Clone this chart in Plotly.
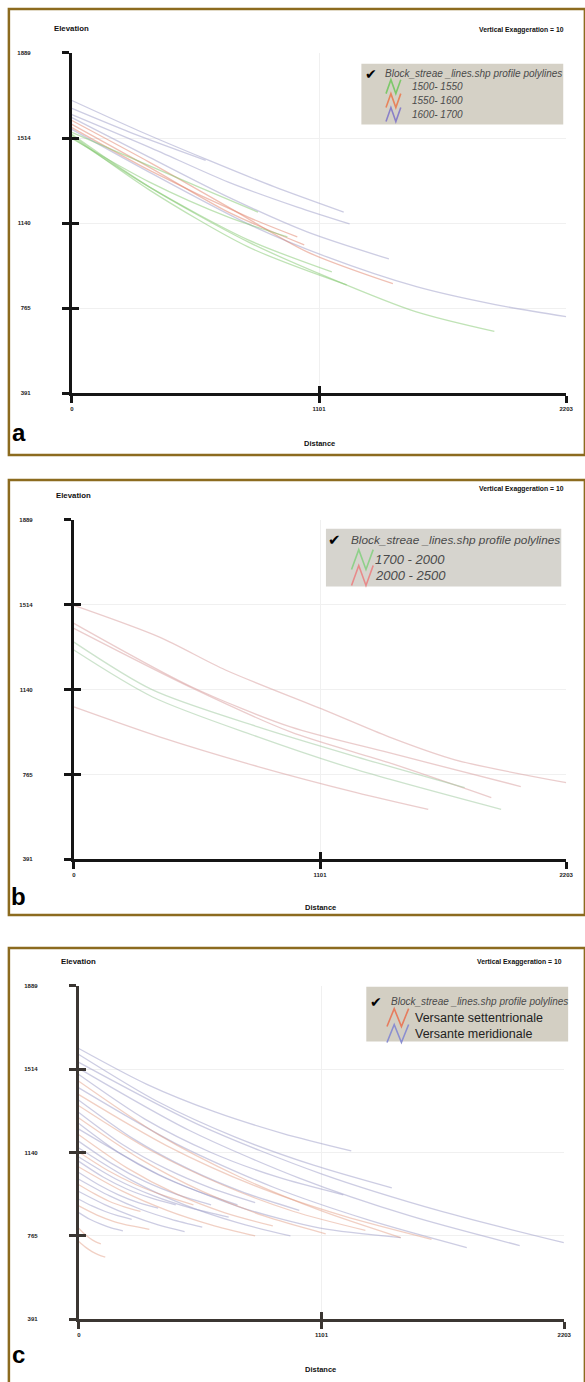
import plotly.graph_objects as go

W, H = 585, 1382

# ---------------- data ----------------
y_tickvals = [391, 765, 1140, 1514, 1889]
y_ticktext = ["391", "765", "1140", "1514", "1889"]
x_tickvals = [0, 1101, 2202]
x_ticktext = ["0", "1101", "2203"]

# panel a : classes 1500-1550 (green), 1550-1600 (orange), 1600-1700 (purple)
a_green_dist = [[0, 346, 785, 1136, 1531, 1882], [0, 346, 785, 1224], [0, 346, 785, 1158],
                [0, 346, 697, 960], [0, 566, 829]]
a_green_elev = [[1530, 1298, 1057, 903, 750, 663], [1525, 1285, 1035, 868], [1517, 1298, 1066, 925],
                [1512, 1320, 1166, 1079], [1539, 1298, 1188]]
a_orange_dist = [[0, 346, 697, 1035], [0, 346, 785, 1004], [0, 346, 697, 1048, 1430]]
a_orange_elev = [[1574, 1385, 1188, 1044], [1560, 1372, 1166, 1079], [1591, 1407, 1210, 1013, 873]]
a_purple_dist = [[0, 300, 600, 900, 1211], [0, 259, 596], [0, 346, 697, 1004, 1237],
                 [0, 346, 697, 1048, 1412], [0, 346, 785, 1136, 1535, 1886, 2202]]
a_purple_elev = [[1679, 1545, 1420, 1300, 1188], [1644, 1539, 1416], [1617, 1473, 1320, 1210, 1136],
                 [1604, 1429, 1254, 1101, 982], [1552, 1363, 1136, 991, 860, 781, 728]]

# panel b : classes 1700-2000 (green), 2000-2500 (red)
b_green_dist = [[0, 352, 823, 1264, 1748], [0, 352, 823, 1264, 1911]]
b_green_elev = [[1349, 1138, 975, 843, 707], [1314, 1107, 931, 786, 611]]
b_red_dist = [[0, 383, 678, 1119, 1409, 1704, 2202], [0, 528, 969, 1409, 1999],
              [0, 528, 969, 1409, 1867], [0, 383, 823, 1264, 1585]]
b_red_elev = [[1511, 1371, 1226, 1050, 931, 830, 729], [1432, 1151, 975, 861, 712],
              [1410, 1147, 953, 817, 663], [1063, 931, 800, 685, 611]]

# panel c : Versante settentrionale (orange), Versante meridionale (blue)
c_sett_dist = [[0, 365, 730, 1095, 1460], [0, 400, 800, 1200, 1600], [0, 325, 650, 975, 1300],
               [0, 280, 560, 840, 1120], [0, 220, 440, 660, 880], [0, 130, 260, 390, 520],
               [0, 200, 400, 600, 800], [0, 70, 140, 210, 280], [0, 80, 160, 240, 320],
               [0, 25, 50, 75, 100], [0, 30, 60, 90, 120]]
c_sett_elev = [[1460, 1218, 1030, 880, 758], [1400, 1170, 990, 855, 750], [1350, 1150, 995, 875, 790],
               [1295, 1110, 965, 855, 775], [1220, 1070, 955, 870, 810], [1142, 1060, 995, 945, 905],
               [1075, 965, 880, 815, 765], [995, 955, 920, 895, 875], [900, 860, 830, 810, 795],
               [800, 775, 755, 740, 730], [740, 715, 695, 680, 670]]
c_mer_dist = [[0, 309, 618, 927, 1236], [0, 355, 710, 1065, 1420], [0, 550, 1100, 1650, 2200],
              [0, 500, 1000, 1500, 2000], [0, 300, 600, 900, 1200], [0, 440, 880, 1320, 1760],
              [0, 250, 500, 750, 1000], [0, 200, 400, 600, 800], [0, 180, 360, 540, 720],
              [0, 365, 730, 1095, 1460], [0, 150, 300, 450, 600], [0, 240, 480, 720, 960],
              [0, 170, 340, 510, 680], [0, 110, 220, 330, 440], [0, 90, 180, 270, 360],
              [0, 140, 280, 420, 560], [0, 120, 240, 360, 480], [0, 60, 120, 180, 240],
              [0, 50, 100, 150, 200]]
c_mer_elev = [[1607, 1446, 1322, 1225, 1147], [1580, 1370, 1209, 1083, 981], [1545, 1262, 1044, 874, 735],
              [1518, 1240, 1025, 856, 722], [1490, 1290, 1140, 1030, 950], [1430, 1180, 985, 835, 713],
              [1375, 1200, 1065, 960, 880], [1320, 1175, 1065, 980, 915], [1270, 1140, 1040, 965, 905],
              [1245, 1040, 895, 800, 758], [1190, 1090, 1010, 950, 905], [1160, 1015, 905, 825, 765],
              [1120, 1020, 945, 890, 850], [1100, 1030, 975, 935, 905], [1050, 995, 950, 915, 890],
              [1020, 945, 885, 840, 805], [965, 905, 855, 815, 785], [930, 900, 875, 855, 840],
              [870, 840, 818, 800, 788]]

legend_header = "Block_streae _lines.shp profile polylines"
a_labels = ["1500- 1550", "1550- 1600", "1600- 1700"]
b_labels = ["1700 - 2000", "2000 - 2500"]
c_labels = ["Versante settentrionale", "Versante meridionale"]

# ---------------- styling ----------------
BORDER = "#8c6b1f"
FONT = "Liberation Sans"


def X(px):
    return px / W


def Y(py):
    return 1 - py / H


fig = go.Figure()


def add_lines(dists, elevs, color, n):
    for d, e in zip(dists, elevs):
        fig.add_trace(go.Scatter(
            x=d, y=e, mode="lines", line=dict(color=color, width=1.3, shape="spline", smoothing=0.8),
            xaxis="x" if n == 1 else f"x{n}", yaxis="y" if n == 1 else f"y{n}",
            showlegend=False, hoverinfo="skip"))


add_lines(a_purple_dist, a_purple_elev, "rgba(155,155,200,0.5)", 1)
add_lines(a_orange_dist, a_orange_elev, "rgba(225,130,105,0.5)", 1)
add_lines(a_green_dist, a_green_elev, "rgba(130,200,110,0.5)", 1)
add_lines(b_red_dist, b_red_elev, "rgba(215,155,155,0.5)", 2)
add_lines(b_green_dist, b_green_elev, "rgba(155,200,155,0.5)", 2)
add_lines(c_mer_dist, c_mer_elev, "rgba(155,155,200,0.5)", 3)
add_lines(c_sett_dist, c_sett_elev, "rgba(225,150,125,0.45)", 3)

layout = dict(width=W, height=H, autosize=False, margin=dict(l=0, r=0, t=0, b=0, pad=0),
              paper_bgcolor="white", plot_bgcolor="rgba(0,0,0,0)", showlegend=False)

panels = [
    (1, 71, 573, 50, 392, "#151515"),
    (2, 73, 573, 519, 860, "#151515"),
    (3, 78, 571, 987, 1322, "#3b3632"),
]

tickfont = dict(family=FONT, size=6, color="#222", weight="bold")
for n, l, r, t, b, col in panels:
    xs = "" if n == 1 else str(n)
    xd = [X(l), X(r)]
    yd = [Y(b), Y(t)]
    layout[f"xaxis{xs}"] = dict(domain=xd, anchor=f"y{xs}", range=[0, 2202], tickmode="array",
                                tickvals=x_tickvals, ticktext=x_ticktext, ticks="outside", ticklen=7,
                                tickwidth=3, tickcolor=col, showline=True, linewidth=3, linecolor=col,
                                showgrid=True, gridcolor="#f0f0f0", gridwidth=1, zeroline=False,
                                tickfont=tickfont, ticklabelstandoff=1, fixedrange=True)
    layout[f"yaxis{xs}"] = dict(domain=yd, anchor=f"x{xs}", range=[391, 1889], tickmode="array",
                                tickvals=y_tickvals, ticktext=y_ticktext, ticks="outside", ticklen=7,
                                tickwidth=3, tickcolor=col, showline=True, linewidth=3, linecolor=col,
                                showgrid=True, gridcolor="#f0f0f0", gridwidth=1, zeroline=False,
                                tickfont=tickfont, ticklabelstandoff=30, fixedrange=True)
    m = n + 3
    layout[f"xaxis{m}"] = dict(overlaying=f"x{xs}", anchor=f"y{xs}", side="bottom", range=[0, 2202],
                               tickmode="array", tickvals=x_tickvals, ticks="inside", ticklen=7, tickwidth=3,
                               tickcolor=col, showticklabels=False, showline=False, showgrid=False,
                               zeroline=False)
    layout[f"yaxis{m}"] = dict(overlaying=f"y{xs}", anchor=f"x{xs}", side="left", range=[391, 1889],
                               tickmode="array", tickvals=y_tickvals, ticks="inside", ticklen=7, tickwidth=3,
                               tickcolor=col, showticklabels=False, showline=False, showgrid=False,
                               zeroline=False)

fig.update_layout(**layout)

for n, l, r, t, b, col in panels:
    m = n + 3
    fig.add_trace(go.Scatter(x=[None], y=[None], xaxis=f"x{m}", yaxis=f"y{m}", showlegend=False,
                             hoverinfo="skip"))

shapes = []
annotations = []


def ann(text, px, py, size, color="#111", bold=True, italic=False, xanchor="center", family=FONT):
    annotations.append(dict(text=text, x=X(px), y=Y(py), xref="paper", yref="paper", showarrow=False,
                            xanchor=xanchor, yanchor="middle",
                            font=dict(family=family, size=size, color=color,
                                      weight="bold" if bold else "normal",
                                      style="italic" if italic else "normal")))


def zig(x0, x1, yc, amp, color, width=1.6):
    w = x1 - x0
    pts = [(x0, yc + amp), (x0 + w / 3, yc - amp), (x0 + 2 * w / 3, yc + amp), (x1, yc - amp)]
    path = "M " + " L ".join(f"{X(px):.5f},{Y(py):.5f}" for px, py in pts)
    shapes.append(dict(type="path", path=path, xref="paper", yref="paper",
                       line=dict(color=color, width=width)))


def rect(x0, y0, x1, y1, line_color=None, fill=None, width=2.5):
    shapes.append(dict(type="rect", xref="paper", yref="paper", x0=X(x0), x1=X(x1), y0=Y(y1), y1=Y(y0),
                       line=dict(color=line_color or "rgba(0,0,0,0)", width=width if line_color else 0),
                       fillcolor=fill or "rgba(0,0,0,0)", layer="below" if fill is None else "above"))


# panel borders
rect(7, 6, 592, 454, BORDER, None, 2.5)
rect(7, 479, 592, 916, BORDER, None, 2.5)
rect(7, 949, 592, 1392, BORDER, None, 2.5)

# ---- panel a ----
ann("Elevation", 71, 26, 7.8)
ann("Vertical Exaggeration = 10", 528, 27, 6.8)
ann("Distance", 322, 442, 7.5)
ann("a", 17, 431, 24, color="#000")
rect(365, 61, 570, 122, None, "#d5d1c6")
ann("✔", 375, 71, 14, color="#000", bold=False, family="DejaVu Sans")
ann(legend_header, 387, 71, 10, color="#4a4a4a", bold=False, italic=True, xanchor="left")
a_cols = ["#7dc86a", "#e8845c", "#8a80c8"]
for i, (lab, c) in enumerate(zip(a_labels, a_cols)):
    yc = 84 + 14 * i
    zig(390, 405, yc, 7, c)
    ann(lab, 414, yc, 10, color="#4a4a4a", bold=False, italic=True, xanchor="left")

# ---- panel b ----
ann("Elevation", 73, 495, 7.8)
ann("Vertical Exaggeration = 10", 528, 488, 6.8)
ann("Distance", 323, 908, 7.5)
ann("b", 17, 897, 24, color="#000")
rect(329, 528, 568, 586, None, "#d6d4ce")
ann("✔", 338, 539, 15, color="#000", bold=False, family="DejaVu Sans")
ann(legend_header, 352, 539, 11.8, color="#4a4a4a", bold=False, italic=True, xanchor="left")
b_cols = ["#8fd08a", "#e88a8a"]
for i, (lab, c) in enumerate(zip(b_labels, b_cols)):
    yc = 559 + 16 * i
    zig(355, 377, yc, 10, c)
    ann(lab, 377, yc, 13, color="#4a4a4a", bold=False, italic=True, xanchor="left")

# ---- panel c ----
ann("Elevation", 78, 963, 7.8)
ann("Vertical Exaggeration = 10", 526, 963, 6.8)
ann("Distance", 323, 1372, 7.5)
ann("c", 17, 1357, 24, color="#000")
rect(370, 988, 575, 1043, None, "#d3cfc3")
ann("✔", 380, 1003, 14, color="#000", bold=False, family="DejaVu Sans")
ann(legend_header, 393, 1003, 10, color="#4a4a4a", bold=False, italic=True, xanchor="left")
c_cols = ["#e67c5e", "#8a8ed0"]
for i, (lab, c) in enumerate(zip(c_labels, c_cols)):
    yc = 1019 + 16 * i
    zig(391, 413, yc, 9, c)
    ann(lab, 417, yc, 12.5, color="#222", bold=False, italic=False, xanchor="left")

fig.update_layout(shapes=shapes, annotations=annotations)
fig.write_html(
    "out.html",
    config={"displayModeBar": False},
    post_script="document.body.style.margin='0';document.body.style.overflow='hidden';"
                "document.documentElement.style.overflow='hidden';",
)
